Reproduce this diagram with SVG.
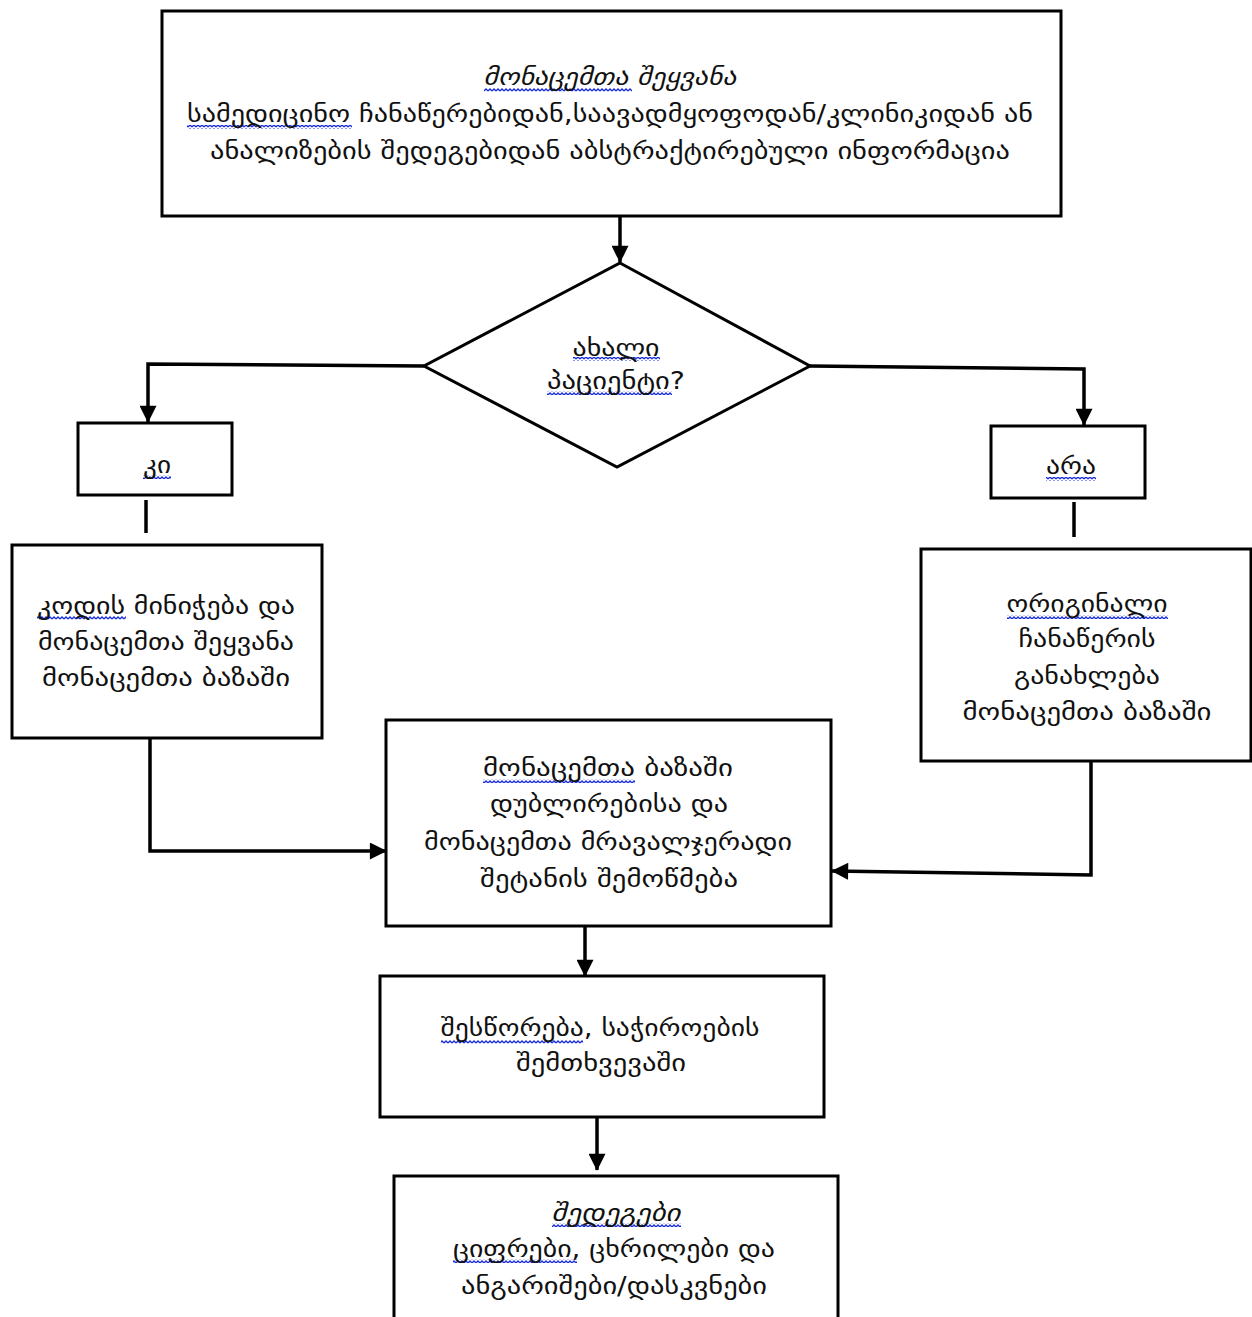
<svg xmlns="http://www.w3.org/2000/svg" width="1252" height="1317" viewBox="0 0 1252 1317">
<style>
.box{fill:#fff;stroke:#000;stroke-width:3}
.ln{fill:none;stroke:#000;stroke-width:3.5}
.t{font-family:"DejaVu Sans","Noto Sans",sans-serif;font-size:24px;fill:#111;text-anchor:middle}
.i{font-style:italic}
.sq{fill:url(#wave)}
</style>
<defs>
<marker id="ah" viewBox="0 0 10 10" refX="9.5" refY="5" markerWidth="18" markerHeight="17" orient="auto" markerUnits="userSpaceOnUse">
<path d="M0,0 L10,5 L0,10 Z" fill="#000"/>
</marker>
<pattern id="wave" width="4" height="4" patternUnits="userSpaceOnUse">
<path d="M0,3 L2,1 L4,3" fill="none" stroke="#1a2ee0" stroke-width="1.3"/>
</pattern>
</defs>
<rect width="1252" height="1317" fill="#fff"/>
<g id="connectors">
<line class="ln" x1="620" y1="216" x2="620" y2="262" marker-end="url(#ah)"/>
<polyline class="ln" points="424,366 148,364 148,422" marker-end="url(#ah)"/>
<polyline class="ln" points="810,366 1084,369 1084,425" marker-end="url(#ah)"/>
<line class="ln" x1="146" y1="500" x2="146" y2="533"/>
<line class="ln" x1="1074" y1="502" x2="1074" y2="537"/>
<polyline class="ln" points="150,738 150,851 386,851" marker-end="url(#ah)"/>
<polyline class="ln" points="1091,761 1091,875 832,871" marker-end="url(#ah)"/>
<line class="ln" x1="585" y1="926" x2="585" y2="976" marker-end="url(#ah)"/>
<line class="ln" x1="597" y1="1117" x2="597" y2="1170" marker-end="url(#ah)"/>
</g>
<g id="n-input">
<rect class="box" x="162" y="11" width="899" height="205"/>
<rect class="sq" x="484" y="88" width="148" height="4"/>
<rect class="sq" x="187" y="125" width="165" height="4"/>
<text class="t i" x="610" y="85" textLength="253" lengthAdjust="spacingAndGlyphs">მონაცემთა შეყვანა</text>
<text class="t" x="610" y="122" textLength="846" lengthAdjust="spacingAndGlyphs">სამედიცინო ჩანაწერებიდან,საავადმყოფოდან/კლინიკიდან ან</text>
<text class="t" x="610" y="159" textLength="800" lengthAdjust="spacingAndGlyphs">ანალიზების შედეგებიდან აბსტრაქტირებული ინფორმაცია</text>
</g>
<g id="n-decision">
<polygon class="box" points="620,263 810,366 617,467 424,366"/>
<rect class="sq" x="573" y="357" width="87" height="4"/>
<rect class="sq" x="547" y="391" width="125" height="4"/>
<text class="t" x="616" y="356" textLength="87" lengthAdjust="spacingAndGlyphs">ახალი</text>
<text class="t" x="616" y="389" textLength="138" lengthAdjust="spacingAndGlyphs">პაციენტი?</text>
</g>
<g id="n-yes">
<rect class="box" x="78" y="423" width="154" height="72"/>
<rect class="sq" x="143" y="475" width="28" height="4"/>
<text class="t" x="157" y="473" textLength="28" lengthAdjust="spacingAndGlyphs">კი</text>
</g>
<g id="n-no">
<rect class="box" x="991" y="426" width="154" height="72"/>
<rect class="sq" x="1046" y="477" width="50" height="4"/>
<text class="t" x="1071" y="474" textLength="50" lengthAdjust="spacingAndGlyphs">არა</text>
</g>
<g id="n-code">
<rect class="box" x="12" y="545" width="310" height="193"/>
<rect class="sq" x="37" y="616" width="89" height="4"/>
<text class="t" x="166" y="614" textLength="258" lengthAdjust="spacingAndGlyphs">კოდის მინიჭება და</text>
<text class="t" x="166" y="650" textLength="256" lengthAdjust="spacingAndGlyphs">მონაცემთა შეყვანა</text>
<text class="t" x="166" y="686" textLength="248" lengthAdjust="spacingAndGlyphs">მონაცემთა ბაზაში</text>
</g>
<g id="n-update">
<rect class="box" x="921" y="549" width="330" height="212"/>
<rect class="sq" x="1007" y="615" width="161" height="4"/>
<text class="t" x="1087" y="612" textLength="161" lengthAdjust="spacingAndGlyphs">ორიგინალი</text>
<text class="t" x="1087" y="647" textLength="137" lengthAdjust="spacingAndGlyphs">ჩანაწერის</text>
<text class="t" x="1087" y="684" textLength="146" lengthAdjust="spacingAndGlyphs">განახლება</text>
<text class="t" x="1087" y="720" textLength="249" lengthAdjust="spacingAndGlyphs">მონაცემთა ბაზაში</text>
</g>
<g id="n-check">
<rect class="box" x="386" y="720" width="445" height="206"/>
<rect class="sq" x="483" y="779" width="152" height="4"/>
<text class="t" x="608" y="776" textLength="250" lengthAdjust="spacingAndGlyphs">მონაცემთა ბაზაში</text>
<text class="t" x="609" y="812" textLength="238" lengthAdjust="spacingAndGlyphs">დუბლირებისა და</text>
<text class="t" x="608" y="850" textLength="368" lengthAdjust="spacingAndGlyphs">მონაცემთა მრავალჯერადი</text>
<text class="t" x="609" y="887" textLength="258" lengthAdjust="spacingAndGlyphs">შეტანის შემოწმება</text>
</g>
<g id="n-correct">
<rect class="box" x="380" y="976" width="444" height="141"/>
<rect class="sq" x="441" y="1040" width="142" height="4"/>
<text class="t" x="600" y="1036" textLength="319" lengthAdjust="spacingAndGlyphs">შესწორება, საჭიროების</text>
<text class="t" x="601" y="1071" textLength="170" lengthAdjust="spacingAndGlyphs">შემთხვევაში</text>
</g>
<g id="n-results">
<rect class="box" x="394" y="1176" width="444" height="150"/>
<rect class="sq" x="552" y="1223" width="129" height="4"/>
<rect class="sq" x="453" y="1259" width="124" height="4"/>
<text class="t i" x="616" y="1221" textLength="129" lengthAdjust="spacingAndGlyphs">შედეგები</text>
<text class="t" x="614" y="1257" textLength="322" lengthAdjust="spacingAndGlyphs">ციფრები, ცხრილები და</text>
<text class="t" x="614" y="1294" textLength="306" lengthAdjust="spacingAndGlyphs">ანგარიშები/დასკვნები</text>
</g>
</svg>
